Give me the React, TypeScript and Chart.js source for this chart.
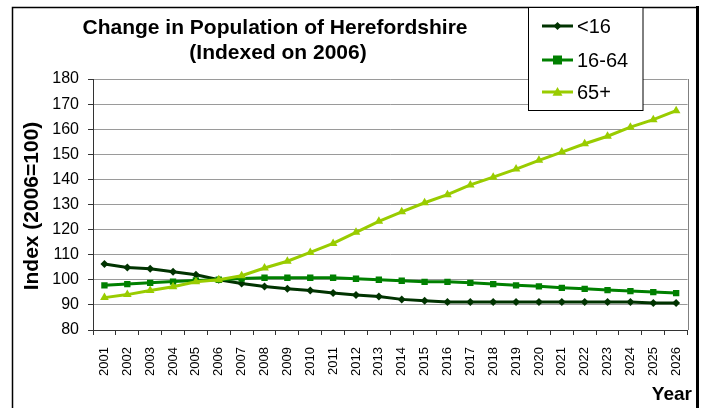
import React, { useEffect, useRef } from 'react';
import { Chart, registerables } from 'chart.js';

Chart.register(...registerables);

const years = ['2001','2002','2003','2004','2005','2006','2007','2008','2009','2010','2011','2012','2013','2014','2015','2016','2017','2018','2019','2020','2021','2022','2023','2024','2025','2026'];
const under16 = [106.3,104.9,104.4,103.2,102.0,100,98.5,97.3,96.4,95.7,94.7,93.9,93.3,92.2,91.7,91.2,91.2,91.2,91.2,91.2,91.2,91.2,91.2,91.2,90.8,90.8];
const age16to64 = [97.8,98.3,98.8,99.3,99.7,100,100.5,100.8,100.8,100.8,100.8,100.4,100.0,99.6,99.2,99.2,98.8,98.3,97.8,97.4,96.8,96.4,95.9,95.5,95.1,94.7];
const over65 = [92.9,94.1,95.7,97.2,99.2,100,101.6,104.7,107.4,110.9,114.5,118.9,123.3,127.1,130.7,133.9,137.8,140.9,144.1,147.6,150.9,154.2,157.2,160.8,163.8,167.4];
const seriesNames = ['<16', '16-64', '65+'];
const seriesColors = ['#003300', '#008000', '#99CC00'];
const titleLines = ['Change in Population of Herefordshire', '(Indexed on 2006)'];
const yTitle = 'Index (2006=100)';
const xTitle = 'Year';

const FONT = '"Liberation Sans", Arial, sans-serif';

function drawMarker(ctx: CanvasRenderingContext2D, kind: string, x: number, y: number, r: number, color: string) {
  ctx.save();
  ctx.fillStyle = color;
  ctx.beginPath();
  if (kind === 'rectRot') {
    ctx.moveTo(x, y - r); ctx.lineTo(x + r, y); ctx.lineTo(x, y + r); ctx.lineTo(x - r, y);
  } else if (kind === 'rect') {
    ctx.rect(x - r, y - r, 2 * r, 2 * r);
  } else {
    ctx.moveTo(x, y - r); ctx.lineTo(x + r, y + r * 0.75); ctx.lineTo(x - r, y + r * 0.75);
  }
  ctx.closePath();
  ctx.fill();
  ctx.restore();
}

const markerKinds = ['rectRot', 'rect', 'triangle'];
const markerSizes = [4, 4.5, 5];

const decor = {
  id: 'decor',
  afterDraw(chart: any) {
    const ctx: CanvasRenderingContext2D = chart.ctx;
    const ca = chart.chartArea;
    ctx.save();
    // plot area right border
    ctx.strokeStyle = '#808080';
    ctx.lineWidth = 1;
    ctx.beginPath();
    ctx.moveTo(Math.round(ca.right) + 0.5, ca.top);
    ctx.lineTo(Math.round(ca.right) + 0.5, ca.bottom);
    ctx.stroke();

    // outer border
    ctx.strokeStyle = '#000';
    ctx.lineWidth = 1.5;
    ctx.beginPath();
    ctx.moveTo(12.5, 420);
    ctx.lineTo(12.5, 7.5);
    ctx.lineTo(697, 7.5);
    ctx.stroke();
    ctx.lineWidth = 3;
    ctx.beginPath();
    ctx.moveTo(697.5, 6);
    ctx.lineTo(697.5, 420);
    ctx.stroke();

    // title
    ctx.fillStyle = '#000';
    ctx.font = 'bold 21px ' + FONT;
    ctx.textAlign = 'center';
    ctx.textBaseline = 'alphabetic';
    ctx.fillText(titleLines[0], 275, 34);
    ctx.fillText(titleLines[1], 278, 59);

    // y title
    ctx.save();
    ctx.translate(32, 206);
    ctx.rotate(-Math.PI / 2);
    ctx.font = 'bold 21px ' + FONT;
    ctx.textAlign = 'center';
    ctx.textBaseline = 'middle';
    ctx.fillText(yTitle, 0, 0);
    ctx.restore();

    // x title
    ctx.font = 'bold 19px ' + FONT;
    ctx.textAlign = 'right';
    ctx.textBaseline = 'alphabetic';
    ctx.fillText(xTitle, 692, 400);

    // legend
    ctx.fillStyle = '#fff';
    ctx.fillRect(528.5, 7.5, 114.5, 103);
    ctx.strokeStyle = '#000';
    ctx.lineWidth = 1;
    ctx.strokeRect(528.5, 7.5, 114.5, 103);
    const ys = [26, 60, 92];
    for (let i = 0; i < 3; i++) {
      ctx.strokeStyle = seriesColors[i];
      ctx.lineWidth = 3;
      ctx.beginPath();
      ctx.moveTo(542, ys[i]);
      ctx.lineTo(573, ys[i]);
      ctx.stroke();
      drawMarker(ctx, markerKinds[i], 557.5, ys[i], markerSizes[i], seriesColors[i]);
      ctx.fillStyle = '#000';
      ctx.font = '20px ' + FONT;
      ctx.textAlign = 'left';
      ctx.textBaseline = 'middle';
      ctx.fillText(seriesNames[i], 577, ys[i] + 1);
    }
    ctx.restore();
  },
};

export default function App() {
  const ref = useRef<HTMLCanvasElement | null>(null);
  useEffect(() => {
    if (!ref.current) return;
    const datas = [under16, age16to64, over65];
    const chart = new Chart(ref.current, {
      type: 'line',
      data: {
        labels: years,
        datasets: datas.map((d, i) => ({
          label: seriesNames[i],
          data: d,
          borderColor: seriesColors[i],
          backgroundColor: seriesColors[i],
          borderWidth: 3,
          pointStyle: markerKinds[i] as any,
          pointRadius: markerSizes[i],
          pointBorderWidth: 0,
          tension: 0,
          order: 2 - i,
        })),
      },
      options: {
        animation: false,
        responsive: false,
        maintainAspectRatio: false,
        layout: { padding: { left: 0, right: 13, top: 79, bottom: 0 } },
        plugins: {
          legend: { display: false },
          title: { display: false },
          tooltip: { enabled: false },
        },
        scales: {
          x: {
            type: 'category',
            offset: true,
            grid: { offset: true, drawOnChartArea: false, tickLength: 5, tickColor: '#333', color: '#333' },
            border: { color: '#333', width: 1 },
            ticks: {
              minRotation: 90, maxRotation: 90, autoSkip: false, padding: 12,
              color: '#000', font: { family: FONT, size: 13 },
            },
            afterFit: (s: any) => { s.height = 78; },
          },
          y: {
            min: 80, max: 180,
            ticks: { stepSize: 10, padding: 9, color: '#000', font: { family: FONT, size: 16 } },
            grid: { color: '#9a9a9a', lineWidth: 1, tickLength: 5, tickColor: '#333' },
            border: { color: '#333', width: 1 },
            afterFit: (s: any) => { s.width = 93; },
          },
        },
      },
      plugins: [decor],
    });
    return () => chart.destroy();
  }, []);
  return (
    <div style={{ position: 'absolute', left: 0, top: 0, width: 704, height: 408, background: '#fff' }}>
      <canvas ref={ref} width={704} height={408} style={{ width: 704, height: 408, display: 'block' }} />
    </div>
  );
}
